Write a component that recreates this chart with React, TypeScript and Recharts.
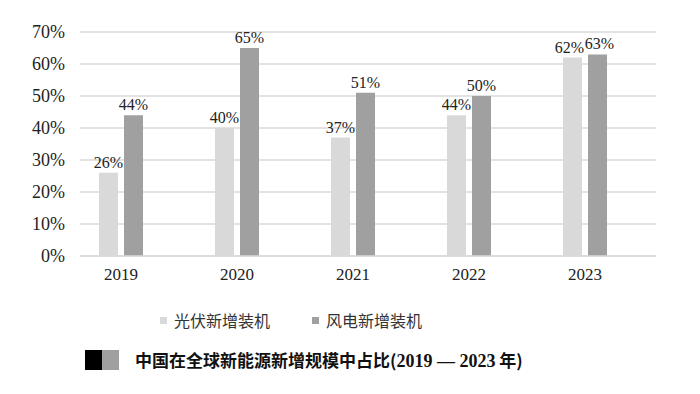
import React from 'react';
import { BarChart, Bar, XAxis, YAxis, CartesianGrid, LabelList } from 'recharts';

const years = ['2019', '2020', '2021', '2022', '2023'];
const solarShare = [26, 40, 37, 44, 62];
const windShare = [44, 65, 51, 50, 63];
const yTicks = [0, 10, 20, 30, 40, 50, 60, 70];

const series = [
  { key: 'solar', name: '光伏新增装机', color: '#d9d9d9', nudge: -3 },
  { key: 'wind', name: '风电新增装机', color: '#a0a0a0', nudge: 2 },
];

const data = years.map((year, i) => ({ year, solar: solarShare[i], wind: windShare[i] }));

const serif = '"Liberation Serif", "Times New Roman", serif';
const cjk = '"Noto Sans CJK SC", sans-serif';

// value label above a bar; the last pair sits close together, so spread them a little
const makeLabel = (nudge: number) => (props: any) => {
  const { x, y, width, value, index } = props;
  const dx = index === years.length - 1 ? nudge : 0;
  return (
    <text
      x={Number(x) + Number(width) / 2 + dx}
      y={Number(y) - 5}
      textAnchor="middle"
      fill="#222"
      fontSize={16}
      fontFamily={serif}
    >
      {`${value}%`}
    </text>
  );
};

const App: React.FC = () => {
  return (
    <div style={{ position: 'absolute', left: 0, top: 0, width: 700, height: 394, background: '#fff' }}>
      <BarChart
        width={700}
        height={290}
        data={data}
        margin={{ top: 32, right: 44, left: 20, bottom: 4 }}
        barSize={19}
        barGap={6}
      >
        <CartesianGrid vertical={false} stroke="#dadada" strokeWidth={1.5} />
        <XAxis
          dataKey="year"
          height={30}
          padding={{ left: -17, right: 13 }}
          axisLine={{ stroke: '#dadada', strokeWidth: 1.5 }}
          tickLine={false}
          tickSize={0}
          tickMargin={12}
          tick={{ fill: '#222', fontSize: 17, fontFamily: serif }}
        />
        <YAxis
          width={60}
          domain={[0, 70]}
          ticks={yTicks}
          axisLine={false}
          tickLine={false}
          tickSize={0}
          tickMargin={15}
          tickFormatter={(v: number) => `${v}%`}
          tick={{ fill: '#222', fontSize: 18, fontFamily: serif }}
        />
        {series.map((s) => (
          <Bar key={s.key} dataKey={s.key} name={s.name} fill={s.color} isAnimationActive={false}>
            <LabelList dataKey={s.key} content={makeLabel(s.nudge)} />
          </Bar>
        ))}
      </BarChart>
      <div style={{ position: 'absolute', top: 308, left: 0, width: 700, height: 24 }}>
        {series.map((s, i) => (
          <div
            key={s.key}
            style={{
              position: 'absolute',
              left: i === 0 ? 160 : 312,
              top: 0,
              display: 'flex',
              alignItems: 'center',
              height: 24,
            }}
          >
            <span style={{ display: 'inline-block', width: 7, height: 7, background: s.color, marginRight: 7 }} />
            <span style={{ fontFamily: cjk, fontSize: 16, color: '#333', whiteSpace: 'nowrap' }}>{s.name}</span>
          </div>
        ))}
      </div>
      <div style={{ position: 'absolute', left: 85, top: 350, width: 17, height: 20, background: '#000' }} />
      <div style={{ position: 'absolute', left: 102, top: 350, width: 17, height: 20, background: '#a0a0a0' }} />
      <div
        style={{
          position: 'absolute',
          left: 135,
          top: 347,
          height: 26,
          lineHeight: '26px',
          fontFamily: cjk,
          fontSize: 17,
          fontWeight: 'bold',
          color: '#111',
          whiteSpace: 'nowrap',
        }}
      >
        中国在全球新能源新增规模中占比(
        <span style={{ fontFamily: serif, fontWeight: 'bold', fontSize: 18 }}>2019 — 2023</span> 年)
      </div>
    </div>
  );
};

export default App;
